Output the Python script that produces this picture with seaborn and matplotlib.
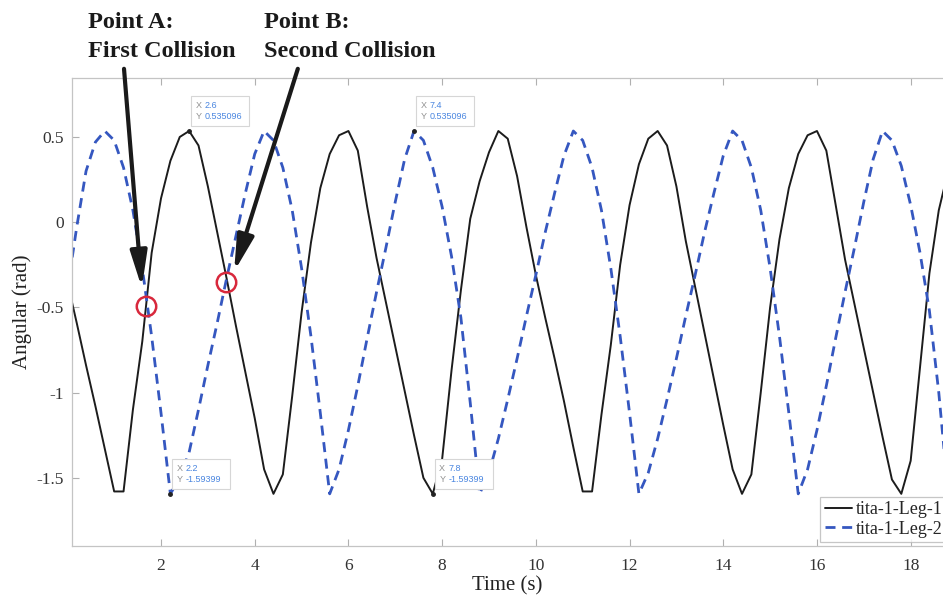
import numpy as np
import pandas as pd
import matplotlib
matplotlib.use("Agg")
import matplotlib.pyplot as plt
import matplotlib.transforms as mtransforms
from matplotlib.patches import Rectangle
import seaborn as sns

# ---------------- data ----------------
time_s = np.round(np.arange(95) * 0.2, 1)          # sample times 0.0 ... 18.8 s

tita_leg1 = [
    -0.35, -0.59, -0.84, -1.08, -1.33, -1.58, -1.58, -1.10, -0.70, -0.18,
    0.14, 0.36, 0.50, 0.535096, 0.45, 0.21, -0.06, -0.33, -0.61, -0.88,
    -1.15, -1.45, -1.59399, -1.48, -1.02, -0.53, -0.12, 0.20, 0.40, 0.51,
    0.535, 0.42, 0.09, -0.21, -0.47, -0.73, -0.99, -1.25, -1.50, -1.59399,
    -1.39, -0.87, -0.40, 0.02, 0.24, 0.41, 0.535, 0.49, 0.27, -0.03,
    -0.31, -0.56, -0.80, -1.05, -1.32, -1.58, -1.58, -1.13, -0.72, -0.25,
    0.10, 0.34, 0.49, 0.535, 0.45, 0.21, -0.11, -0.38, -0.65, -0.92,
    -1.19, -1.45, -1.594, -1.48, -1.00, -0.50, -0.10, 0.20, 0.40, 0.51,
    0.535, 0.42, 0.10, -0.22, -0.48, -0.74, -1.00, -1.26, -1.51, -1.594,
    -1.40, -0.85, -0.30, 0.07, 0.30,
]

tita_leg2 = [
    -0.40, -0.03, 0.30, 0.47, 0.535, 0.48, 0.32, 0.07, -0.27, -0.67,
    -1.12, -1.59399, -1.50, -1.35, -1.10, -0.84, -0.59, -0.33, -0.08, 0.17,
    0.40, 0.535, 0.48, 0.32, 0.07, -0.27, -0.67, -1.12, -1.594, -1.45,
    -1.22, -0.96, -0.68, -0.41, -0.15, 0.12, 0.37, 0.535096, 0.48, 0.32,
    0.09, -0.20, -0.56, -1.06, -1.594, -1.47, -1.27, -1.04, -0.80, -0.55,
    -0.31, -0.06, 0.17, 0.39, 0.535, 0.48, 0.32, 0.07, -0.27, -0.67,
    -1.12, -1.594, -1.47, -1.27, -1.04, -0.80, -0.55, -0.31, -0.06, 0.17,
    0.39, 0.535, 0.48, 0.32, 0.07, -0.27, -0.67, -1.12, -1.594, -1.45,
    -1.22, -0.96, -0.68, -0.41, -0.15, 0.12, 0.37, 0.535, 0.48, 0.33,
    0.10, -0.18, -0.52, -1.00, -1.594,
]

series_names = ["tita-1-Leg-1", "tita-1-Leg-2"]

# data tips shown on the plot
tip_x = [2.6, 2.2, 7.4, 7.8]
tip_y = [0.535096, -1.59399, 0.535096, -1.59399]
tip_xtext = ["2.6", "2.2", "7.4", "7.8"]
tip_ytext = ["0.535096", "-1.59399", "0.535096", "-1.59399"]

# collision points (red circles) and their labels
collision_t = [1.68, 3.39]
collision_y = [-0.49, -0.35]
collision_labels = ["Point A:\nFirst Collision", "Point B:\nSecond Collision"]

x_ticks = [2, 4, 6, 8, 10, 12, 14, 16, 18]
y_ticks = [-1.5, -1, -0.5, 0, 0.5]
y_ticklabels = ["-1.5", "-1", "-0.5", "0", "0.5"]

# ---------------- figure ----------------
sns.set_style("ticks")
plt.rcParams["font.family"] = ["Liberation Serif", "DejaVu Serif"]
plt.rcParams["axes.unicode_minus"] = False

df = pd.DataFrame({"t": time_s, "leg1": tita_leg1, "leg2": tita_leg2})

fig = plt.figure(figsize=(9.43, 6.06), dpi=100)
ax = fig.add_axes([72 / 943, 60 / 606, (943 - 72) / 943, 468 / 606])

sns.lineplot(data=df, x="t", y="leg1", ax=ax, color="#1c1c1c", lw=1.4,
             label=series_names[0], sort=False)
sns.lineplot(data=df, x="t", y="leg2", ax=ax, color="#3557c0", lw=2.0,
             label=series_names[1], sort=False)
ax.lines[1].set_dashes([3.6, 2.4])

ax.set_xlim(0.1, 18.69)
ax.set_ylim(-1.9, 0.846)
ax.set_xticks(x_ticks)
ax.set_xticklabels([str(v) for v in x_ticks])
ax.set_yticks(y_ticks)
ax.set_yticklabels(y_ticklabels)
ax.set_xlabel("Time (s)", fontsize=15, color="#222222", labelpad=1)
ax.set_ylabel("Angular (rad)", fontsize=15, color="#222222", labelpad=3)

for s in ["left", "bottom", "top"]:
    ax.spines[s].set_color("#c4c4c4")
    ax.spines[s].set_linewidth(0.9)
ax.spines["right"].set_visible(False)
ax.tick_params(axis="both", direction="in", length=5, color="#b0b0b0",
               labelsize=12.5, labelcolor="#333333", top=True)
ax.tick_params(axis="x", pad=9)
ax.tick_params(axis="y", pad=6)

leg = ax.legend(loc="lower left", bbox_to_anchor=(0.859, 0.008),
                frameon=True, fancybox=False, edgecolor="#b8b8b8",
                fontsize=13, handlelength=1.5, handletextpad=0.2,
                borderpad=0.25, labelspacing=0.15, borderaxespad=0)
leg.get_frame().set_linewidth(0.9)

# data tips: box drawn in inches relative to the tip point
for x, y, xs, ys in zip(tip_x, tip_y, tip_xtext, tip_ytext):
    ax.plot([x], [y], "o", color="#222222", ms=2.5, zorder=6)
    trans = fig.dpi_scale_trans + mtransforms.ScaledTranslation(x, y, ax.transData)
    ax.add_patch(Rectangle((0.02, 0.05), 0.58, 0.30, transform=trans,
                           fc="white", ec="#d6d6d6", lw=0.8, zorder=7,
                           clip_on=False))
    ax.text(0.065, 0.095, "X\nY", transform=trans, fontsize=6.5,
            family="Liberation Sans", color="#909090", ha="left",
            va="bottom", linespacing=1.35, zorder=8)
    ax.text(0.155, 0.095, f"{xs}\n{ys}", transform=trans, fontsize=6.5,
            family="Liberation Sans", color="#4a86e0", ha="left",
            va="bottom", linespacing=1.35, zorder=8)

# red collision circles
ax.plot(collision_t, collision_y, "o", ms=14, mfc="none", mec="#d8283c",
        mew=1.8, zorder=9)

# arrows from the labels down to the collisions
arrow_start = [(1.21, 0.90), (4.92, 0.90)]
arrow_tip = [(1.59, -0.385), (3.56, -0.29)]
for st, tp in zip(arrow_start, arrow_tip):
    ax.annotate("", xy=tp, xytext=st, annotation_clip=False,
                arrowprops=dict(arrowstyle="-|>,head_length=1.2,head_width=0.28",
                                lw=3.0, color="#1a1a1a", mutation_scale=18,
                                shrinkA=0, shrinkB=0), zorder=10)

fig.text(88 / 943, 1 - 12 / 606, collision_labels[0], fontsize=17.5,
         fontweight="bold", family="Liberation Serif", va="top", ha="left",
         linespacing=1.5, color="#1a1a1a")
fig.text(264 / 943, 1 - 12 / 606, collision_labels[1], fontsize=17.5,
         fontweight="bold", family="Liberation Serif", va="top", ha="left",
         linespacing=1.5, color="#1a1a1a")

fig.savefig("out.png", dpi=100, facecolor="white")
